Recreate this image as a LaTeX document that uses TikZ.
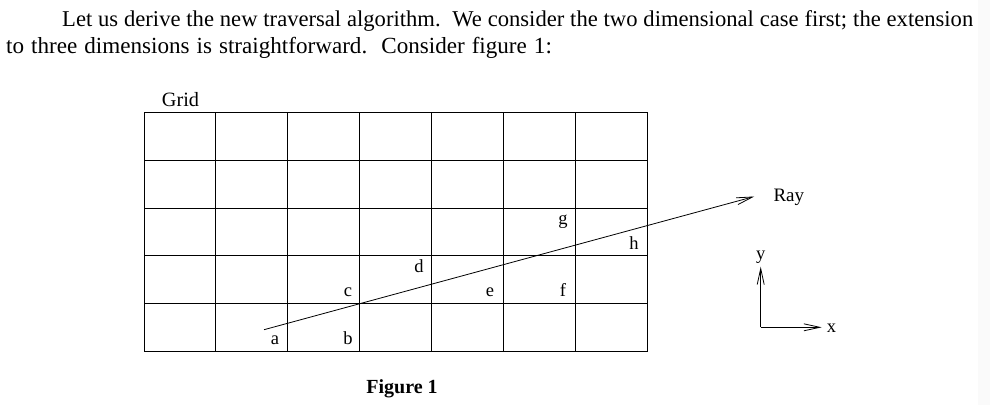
\documentclass[tikz,border=0pt]{standalone}
\usepackage{fontspec}
\setmainfont{Liberation Serif}
\usetikzlibrary{arrows.meta}
\tikzset{
  gridline/.style={line width=0.9pt, black},
  lbl/.style={inner sep=0pt, anchor=base, font=\fontsize{18.5}{20}\selectfont},
  body/.style={inner sep=0pt, anchor=base west, font=\fontsize{22.6}{27}\selectfont},
  ray/.style={line width=0.8pt, -{Straight Barb[length=16pt,width=7pt,line width=0.8pt]}},
  axis/.style={line width=0.8pt, -{Straight Barb[length=16pt,width=7pt,line width=0.8pt]}},
}
\begin{document}
\begin{tikzpicture}[x=1pt,y=-1pt]
\useasboundingbox (0,0) rectangle (990,405);
\fill[white] (0,0) rectangle (990,405);
\fill[black!2] (978,0) rectangle (990,405);
% paragraph
\node[body] (p1) at (62,26) {\makebox[911pt][s]{Let us derive the new traversal algorithm.\ \ We consider the two dimensional case first; the extension}};
\node[body, font=\fontsize{23.1}{27}\selectfont] (p2) at (6,53.3) {\makebox[545.7pt][s]{to three dimensions is straightforward.\ \ Consider figure 1:}};
% grid
\foreach \i in {0,...,7} {
  \draw[gridline] ({144+\i*71.857},112.3) -- ({144+\i*71.857},351.7);
}
\foreach \j in {0,...,5} {
  \draw[gridline] (144,{112.3+\j*47.88}) -- (646.9,{112.3+\j*47.88});
}
\node[inner sep=0pt, anchor=base west, font=\fontsize{20.3}{24}\selectfont] (grid) at (161.7,106) {Grid};
% ray
\coordinate (rs) at (264,329.7);
\coordinate (re) at (754.3,196.5);
\draw[ray] (rs) -- (re);
\node[inner sep=0pt, anchor=base west, font=\fontsize{19}{20}\selectfont] (raylbl) at (773.3,201) {Ray};
% labels
\node[lbl] (a) at (275,344) {a};
\node[lbl] (b) at (348,344) {b};
\node[lbl] (c) at (348,296.3) {c};
\node[lbl] (d) at (419,272.3) {d};
\node[lbl] (e) at (490,296.5) {e};
\node[lbl] (f) at (563,296.5) {f};
\node[lbl] (g) at (563,224.3) {g};
\node[lbl] (h) at (634,249) {h};
% axes
\coordinate (o) at (760.7,327.3);
\coordinate (yt) at (760.7,266.7);
\coordinate (xt) at (821.7,327.3);
\draw[axis] (o) -- (yt);
\draw[axis] (o) -- (xt);
\node[lbl] (ylbl) at (760.7,259) {y};
\node[inner sep=0pt, anchor=base west, font=\fontsize{18.5}{20}\selectfont] (xlbl) at (826.7,332.7) {x};
% caption
\node[inner sep=0pt, anchor=base, font=\fontsize{20}{24}\selectfont\bfseries] (cap) at (402,393) {Figure 1};
\end{tikzpicture}
\end{document}
